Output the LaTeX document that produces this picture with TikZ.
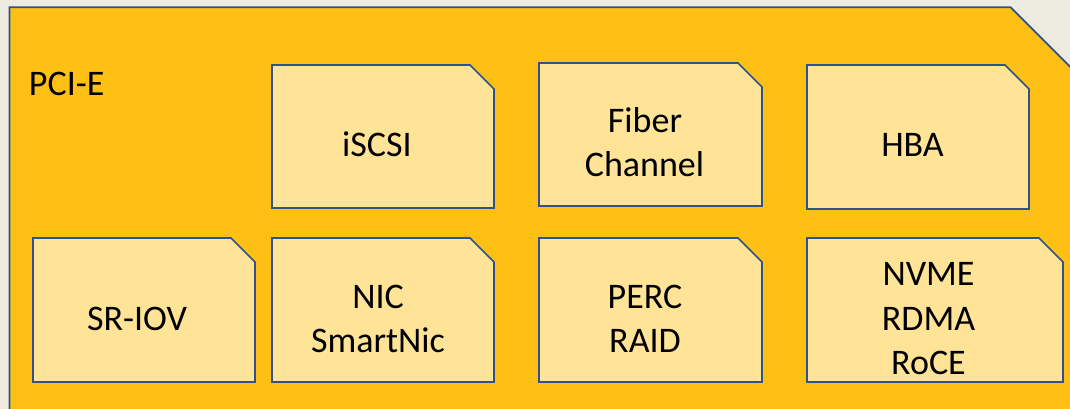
\documentclass[tikz,border=0pt]{standalone}
\usepackage{fontspec}
\setmainfont{Carlito}
\definecolor{bgc}{HTML}{EEEBE1}
\definecolor{gold}{HTML}{FFC015}
\definecolor{lightgold}{HTML}{FFE497}
\definecolor{edge}{HTML}{2F528F}
\newcommand{\snipbox}[5]{%
  \draw[boxstyle] (#1,#2) -- (#3-#5,#2) -- (#3,#2+#5) -- (#3,#4) -- (#1,#4) -- cycle;}
\tikzset{
  boxstyle/.style={fill=lightgold, draw=edge, line width=1.7pt, line join=miter},
  lbl/.style={anchor=base, font=\fontsize{36}{44}\selectfont, inner sep=0pt, text=black, align=center},
}
\begin{document}
\begin{tikzpicture}[x=1pt,y=-1pt]
\useasboundingbox (0,0) rectangle (1070,409);
\clip (0,0) rectangle (1070,409);
\fill[bgc] (0,0) rectangle (1070,409);
\draw[fill=gold, draw=edge, line width=1.7pt] (9.5,430) -- (9.5,7.3) -- (1010.7,7.3) -- (1090,86.6) -- (1090,430) -- cycle;
% boxes
\snipbox{272}{65}{494}{208}{24}
\snipbox{539}{63}{762}{206}{24}
\snipbox{807}{65}{1029}{209}{24}
\snipbox{33}{238}{255}{382}{24}
\snipbox{272}{238}{494}{382}{24}
\snipbox{539}{238}{762}{382}{24}
\snipbox{807}{238}{1063}{382}{24}
% labels
\node[lbl] (pcie) at (66.7,96) {PCI-E};
\node[lbl] (iscsi) at (377,157) {iSCSI};
\node[lbl] (fiber) at (645,132) {Fiber};
\node[lbl] (channel) at (644.5,176) {Channel};
\node[lbl] (hba) at (912.5,157) {HBA};
\node[lbl] (sriov) at (137,330) {SR-IOV};
\node[lbl] (nic) at (378,308) {NIC};
\node[lbl] (smartnic) at (378,352) {SmartNic};
\node[lbl] (perc) at (645,308) {PERC};
\node[lbl] (raid) at (645,352) {RAID};
\node[lbl] (nvme) at (928.5,285) {NVME};
\node[lbl] (rdma) at (928.5,330) {RDMA};
\node[lbl] (roce) at (928.5,374) {RoCE};
\end{tikzpicture}
\end{document}
